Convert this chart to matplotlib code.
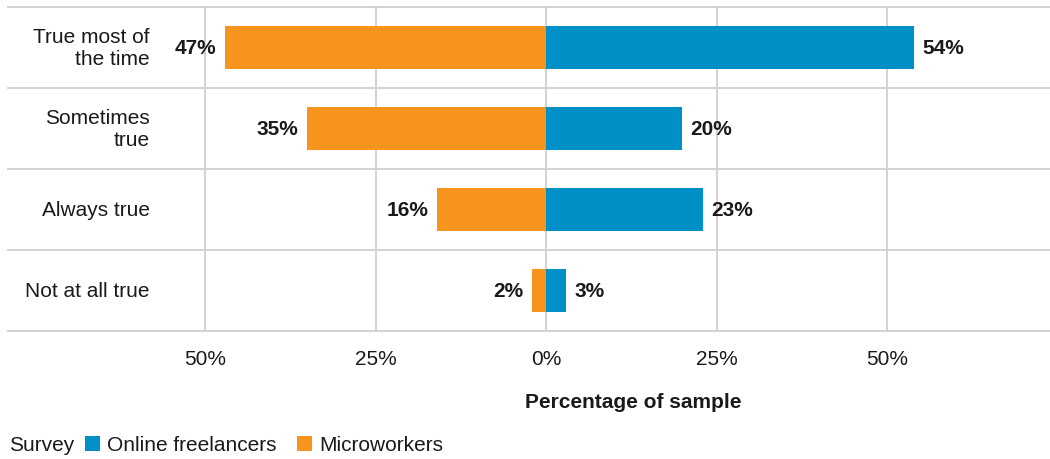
import matplotlib
matplotlib.use("Agg")
import matplotlib.pyplot as plt
from matplotlib.patches import Patch

plt.rcParams["font.family"] = ["Liberation Sans", "DejaVu Sans"]

categories = ["True most of\nthe time", "Sometimes\ntrue", "Always true", "Not at all true"]
freelancers = [54, 20, 23, 3]
microworkers = [47, 35, 16, 2]
tick_values = [-50, -25, 0, 25, 50]
tick_labels = ["50%", "25%", "0%", "25%", "50%"]

BLUE = "#0090C8"
ORANGE = "#F7941E"
GRID = "#CFCFCF"
TEXT = "#1a1a1a"
FS = 15

W, H = 1050, 460
fig = plt.figure(figsize=(W / 100, H / 100), dpi=100)
ax = fig.add_axes([8 / W, 1 - 332 / H, 1 - 8 / W, (332 - 8) / H])

ypos = list(range(len(categories)))
bar_h = 0.54
ax.barh(ypos, freelancers, height=bar_h, color=BLUE, zorder=3)
ax.barh(ypos, [-v for v in microworkers], height=bar_h, color=ORANGE, zorder=3)

for y, v in zip(ypos, freelancers):
    ax.text(v + 1.2, y, f"{v}%", ha="left", va="center",
            fontsize=FS, fontweight="bold", color=TEXT)
for y, v in zip(ypos, microworkers):
    ax.text(-v - 1.3, y, f"{v}%", ha="right", va="center",
            fontsize=FS, fontweight="bold", color=TEXT)

# category labels sit inside the left margin of the axes
for y, c in zip(ypos, categories):
    ax.text(-58.1, y, c, ha="right", va="center", multialignment="right",
            fontsize=FS, color=TEXT, linespacing=1.2)

ax.set_xlim((8 - 546) / 6.82, (1050 - 546) / 6.82)
ax.set_ylim(len(categories) - 0.5, -0.5)

# row separators across the full width
for b in [i - 0.5 for i in range(len(categories) + 1)]:
    ax.axhline(b, color=GRID, lw=1.3, zorder=1, clip_on=False)
for t in tick_values:
    ax.axvline(t, color=GRID, lw=1.3, zorder=1)

ax.set_xticks(tick_values)
ax.set_xticklabels(tick_labels, fontsize=FS, color=TEXT)
ax.tick_params(axis="x", length=0, pad=13)
ax.set_yticks([])
for s in ax.spines.values():
    s.set_visible(False)

fig.text(633 / W, 1 - 403 / H, "Percentage of sample", ha="center", va="center",
         fontsize=FS, fontweight="bold", color=TEXT)

fig.text(9 / W, 1 - 446 / H, "Survey", ha="left", va="center",
         fontsize=FS, color=TEXT)
handles = [Patch(facecolor=BLUE, label="Online freelancers"),
           Patch(facecolor=ORANGE, label="Microworkers")]
fig.legend(handles=handles, loc="center left", bbox_to_anchor=(85 / W, 1 - 446 / H),
           ncol=2, frameon=False, fontsize=FS, handlelength=0.72, handleheight=0.72,
           handletextpad=0.34, columnspacing=1.0, borderaxespad=0, borderpad=0,
           labelcolor=TEXT)

fig.savefig("out.png", dpi=100)
